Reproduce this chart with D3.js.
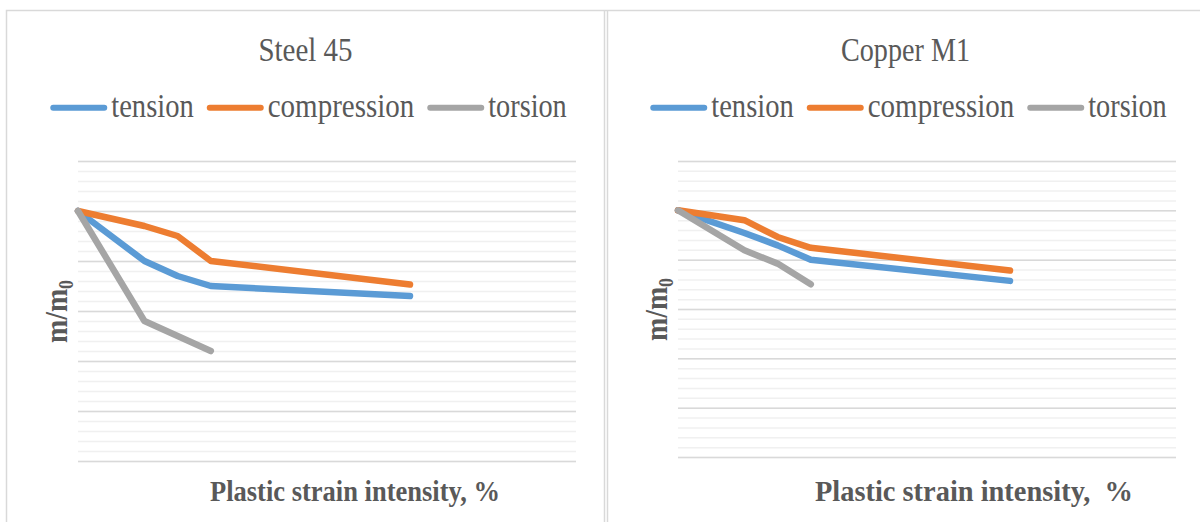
<!DOCTYPE html>
<html>
<head>
<meta charset="utf-8">
<script src="https://cdn.jsdelivr.net/npm/d3@7"></script>
<style>
  body { margin: 0; background: #fff; }
  svg { display: block; }
  text { font-family: 'Liberation Serif', 'Times New Roman', serif; fill: #595959; }
</style>
</head>
<body>
<div id="chart"></div>
<script>
// x: plastic strain intensity, %   y: relative m/m0
const strain = [0, 1, 1.5, 2, 5]
const steelTorsionStrain = [0, 1, 2]
const copperTorsionStrain = [0, 1, 1.5, 2]

const steelTension = [1.0, 0.90, 0.87, 0.85, 0.83]
const steelCompression = [1.0, 0.97, 0.95, 0.90, 0.853]
const steelTorsion = [1.0, 0.78, 0.72]

const copperTension = [1.0, 0.954, 0.929, 0.90, 0.857]
const copperCompression = [1.0, 0.98, 0.946, 0.924, 0.878]
const copperTorsion = [1.0, 0.919, 0.892, 0.85]

const seriesNames = ['tension', 'compression', 'torsion']
const seriesColors = ['#5b9bd5', '#ed7d31', '#a5a5a5']

const majorTicks = [0.5, 0.6, 0.7, 0.8, 0.9, 1.0, 1.1]
const minorTicks = d3.range(25, 56).map(d => d / 50)

const width = 1200
const height = 522

// the original font is narrower than Liberation Serif, so text widths are fixed
const legendTextWidth = [82.5, 146.5, 78.5]

const svg = d3.select('#chart')
  .append('svg')
  .attr('width', width)
  .attr('height', height)

const panels = [
  {
    title: 'Steel 45',
    titleWidth: 94,
    cx: 305.5,
    plot: { x0: 78, x1: 576, y0: 161, y1: 461 },
    xs: [strain, strain, steelTorsionStrain],
    ys: [steelTension, steelCompression, steelTorsion],
    xLabel: 'Plastic strain intensity, %',
    xLabelX: 355,
    xLabelWidth: 290,
    yLabelX: 67,
    yLabelY: 311.5
  },
  {
    title: 'Copper M1',
    titleWidth: 129,
    cx: 905.5,
    plot: { x0: 678, x1: 1176, y0: 161, y1: 457 },
    xs: [strain, strain, copperTorsionStrain],
    ys: [copperTension, copperCompression, copperTorsion],
    xLabel: 'Plastic strain intensity,  %',
    xLabelX: 974,
    xLabelWidth: 318,
    yLabelX: 667,
    yLabelY: 309.5
  }
]

// frames of the two chart areas
const frame = svg.append('g')
  .attr('fill', 'none')
  .attr('stroke', '#d9d9d9')
  .attr('stroke-width', 1.5)
frame.append('path').attr('d', 'M6.5,522V10.5H1200')
frame.append('path').attr('d', 'M604.5,10.5V522')
frame.append('path').attr('d', 'M607.5,10.5V522')

panels.forEach(p => {
  const g = svg.append('g')

  const x = d3.scaleLinear().domain([0, 7.5]).range([p.plot.x0, p.plot.x1])
  const y = d3.scaleLinear().domain([0.5, 1.1]).range([p.plot.y1, p.plot.y0])
  const w = p.plot.x1 - p.plot.x0

  // minor grid
  g.append('g')
    .attr('transform', 'translate(' + p.plot.x0 + ',0)')
    .call(d3.axisLeft(y).tickValues(minorTicks).tickSize(-w).tickFormat(''))
    .call(a => a.select('.domain').remove())
    .call(a => a.selectAll('line').attr('stroke', '#f0f0f0').attr('stroke-width', 1.5))

  // major grid
  g.append('g')
    .attr('transform', 'translate(' + p.plot.x0 + ',0)')
    .call(d3.axisLeft(y).tickValues(majorTicks).tickSize(-w).tickFormat(''))
    .call(a => a.select('.domain').remove())
    .call(a => a.selectAll('line').attr('stroke', '#d9d9d9').attr('stroke-width', 1.5))

  const line = d3.line()
    .x(d => x(d[0]))
    .y(d => y(d[1]))

  seriesNames.forEach((name, i) => {
    const pts = p.xs[i].map((v, j) => [v, p.ys[i][j]])
    g.append('path')
      .datum(pts)
      .attr('d', line)
      .attr('fill', 'none')
      .attr('stroke', seriesColors[i])
      .attr('stroke-width', 6.5)
      .attr('stroke-linecap', 'round')
      .attr('stroke-linejoin', 'round')
  })

  // title
  g.append('text')
    .attr('x', p.cx)
    .attr('y', 61)
    .attr('text-anchor', 'middle')
    .attr('font-size', 33)
    .attr('textLength', p.titleWidth)
    .attr('lengthAdjust', 'spacingAndGlyphs')
    .text(p.title)

  // legend
  const leg = g.append('g')
  let pos = 0
  seriesNames.forEach((name, i) => {
    const item = leg.append('g').attr('transform', 'translate(' + pos + ',0)')
    item.append('line')
      .attr('x1', 3)
      .attr('x2', 54)
      .attr('y1', 107.7)
      .attr('y2', 107.7)
      .attr('stroke', seriesColors[i])
      .attr('stroke-width', 6)
      .attr('stroke-linecap', 'round')
    item.append('text')
      .attr('x', 61)
      .attr('y', 117)
      .attr('font-size', 33)
      .attr('textLength', legendTextWidth[i])
      .attr('lengthAdjust', 'spacingAndGlyphs')
      .text(name)
    pos += 61 + legendTextWidth[i] + 13
  })
  const total = pos - 13
  leg.attr('transform', 'translate(' + (p.cx + 3 - total / 2) + ',0)')

  // x axis title
  g.append('text')
    .attr('x', p.xLabelX)
    .attr('y', 501)
    .attr('text-anchor', 'middle')
    .attr('font-size', 29)
    .attr('font-weight', 'bold')
    .style('white-space', 'pre')
    .attr('textLength', p.xLabelWidth)
    .attr('lengthAdjust', 'spacingAndGlyphs')
    .text(p.xLabel)

  // y axis title m/m0
  const yl = g.append('text')
    .attr('transform', 'translate(' + p.yLabelX + ',' + p.yLabelY + ') rotate(-90)')
    .attr('text-anchor', 'middle')
    .attr('font-size', 31)
    .attr('font-weight', 'bold')
    .attr('textLength', 63)
    .attr('lengthAdjust', 'spacingAndGlyphs')
  yl.append('tspan').text('m/m')
  yl.append('tspan')
    .attr('font-size', 20)
    .attr('dy', 6)
    .text('0')
})
</script>
</body>
</html>
